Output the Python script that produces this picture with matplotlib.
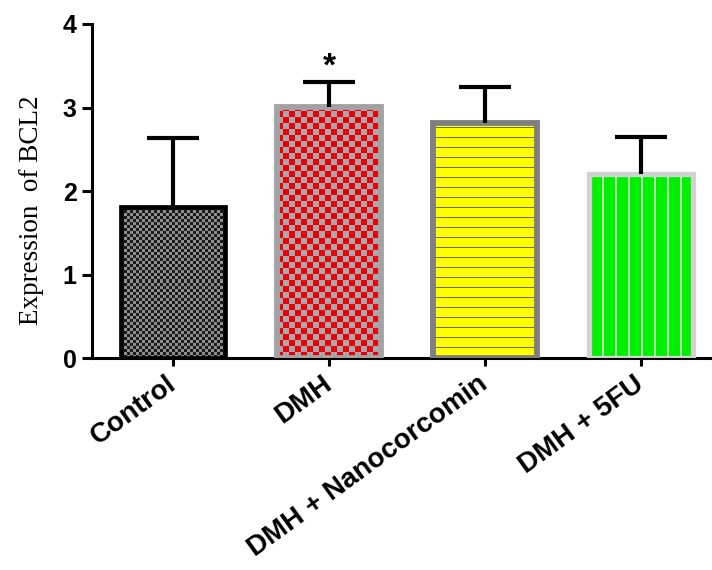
import matplotlib
matplotlib.use("Agg")
import matplotlib.pyplot as plt
import numpy as np

# data
groups = ["Control", "DMH", "DMH + Nanocorcomin", "DMH + 5FU"]
means = [1.81, 3.01, 2.81, 2.20]
sd = [0.82, 0.29, 0.43, 0.45]
signif = ["", "*", "", ""]

edge_colors = ["#000000", "#a3a3a3", "#7f7f7f", "#d2d2d2"]
edge_widths = [3.4, 4.2, 4.2, 3.8]


def hexrgb(c):
    c = c.lstrip("#")
    return np.array([int(c[i:i + 2], 16) for i in (0, 2, 4)]) / 255.0


def make_texture(kind, nx, ny):
    jj, ii = np.meshgrid(np.arange(nx), np.arange(ny))
    img = np.zeros((ny, nx, 3))
    if kind == 0:  # fine black / grey checker
        m = ((ii // 3 + jj // 3) % 2) == 0
        img[:] = hexrgb("#1a1a1a")
        img[m] = hexrgb("#8e8e8e")
    elif kind == 1:  # red / grey checker
        m = ((ii // 6 + jj // 6) % 2) == 0
        img[:] = hexrgb("#a9a9a9")
        img[m] = hexrgb("#e8000a")
    elif kind == 2:  # yellow with horizontal lines
        img[:] = hexrgb("#ffff00")
        img[(ii % 10) == 0] = hexrgb("#6e6e10")
    else:  # green with vertical light lines
        img[:] = hexrgb("#00f000")
        m = (jj % 13) < 2
        img[m] = hexrgb("#b4ffb4")
    return img


fig = plt.figure(figsize=(7.12, 5.7), dpi=100)
ax = fig.add_axes([0.1292, 0.3719, 0.8708, 0.586])

x = np.arange(len(groups))
ax.set_xlim(-0.52, 3.455)
ax.set_ylim(0, 4)

bars = ax.bar(x, means, width=0.67, facecolor="none", zorder=3)
for i, b in enumerate(bars):
    b.set_edgecolor(edge_colors[i])
    b.set_linewidth(edge_widths[i])
    ext = b.get_window_extent()
    nx = max(int(round(ext.width)), 1)
    ny = max(int(round(ext.height)), 1)
    tex = make_texture(i, nx, ny)
    im = ax.imshow(tex, extent=(b.get_x(), b.get_x() + b.get_width(), 0, b.get_height()),
                   origin="lower", interpolation="nearest", aspect="auto", zorder=2)
    im.set_clip_path(b)

# error bars (upper only)
ax.vlines(x, means, np.array(means) + np.array(sd), color="black", lw=3.0, zorder=4)
ax.hlines(np.array(means) + np.array(sd), x - 0.165, x + 0.165, color="black", lw=3.0, zorder=4)

for i, s in enumerate(signif):
    if s:
        ax.text(x[i], means[i] + sd[i] + 0.18, s, ha="center", va="center",
                fontsize=24, fontweight="bold", family="Liberation Sans")

ax.set_xlim(-0.52, 3.455)
ax.set_ylim(0, 4)

for sp in ["top", "right"]:
    ax.spines[sp].set_visible(False)
for sp in ["left", "bottom"]:
    ax.spines[sp].set_linewidth(2.2)

ax.set_yticks([0, 1, 2, 3, 4])
ax.set_xticks(x)
ax.set_xticklabels(groups, rotation=36, ha="right", va="center", rotation_mode="anchor",
                   fontsize=20, fontweight="bold", family="Liberation Sans")
for lab in ax.get_yticklabels():
    lab.set_fontsize(18)
    lab.set_fontweight("bold")
    lab.set_family("Liberation Sans")
ax.tick_params(axis="y", length=7, width=2.2, pad=4)
ax.tick_params(axis="x", length=6, width=2.2, pad=11)

ax.set_ylabel("Expression  of BCL2", fontsize=19.5, family="Liberation Serif")
ax.yaxis.set_label_coords(-0.077, 0.443)

fig.savefig("out.png", dpi=100)
